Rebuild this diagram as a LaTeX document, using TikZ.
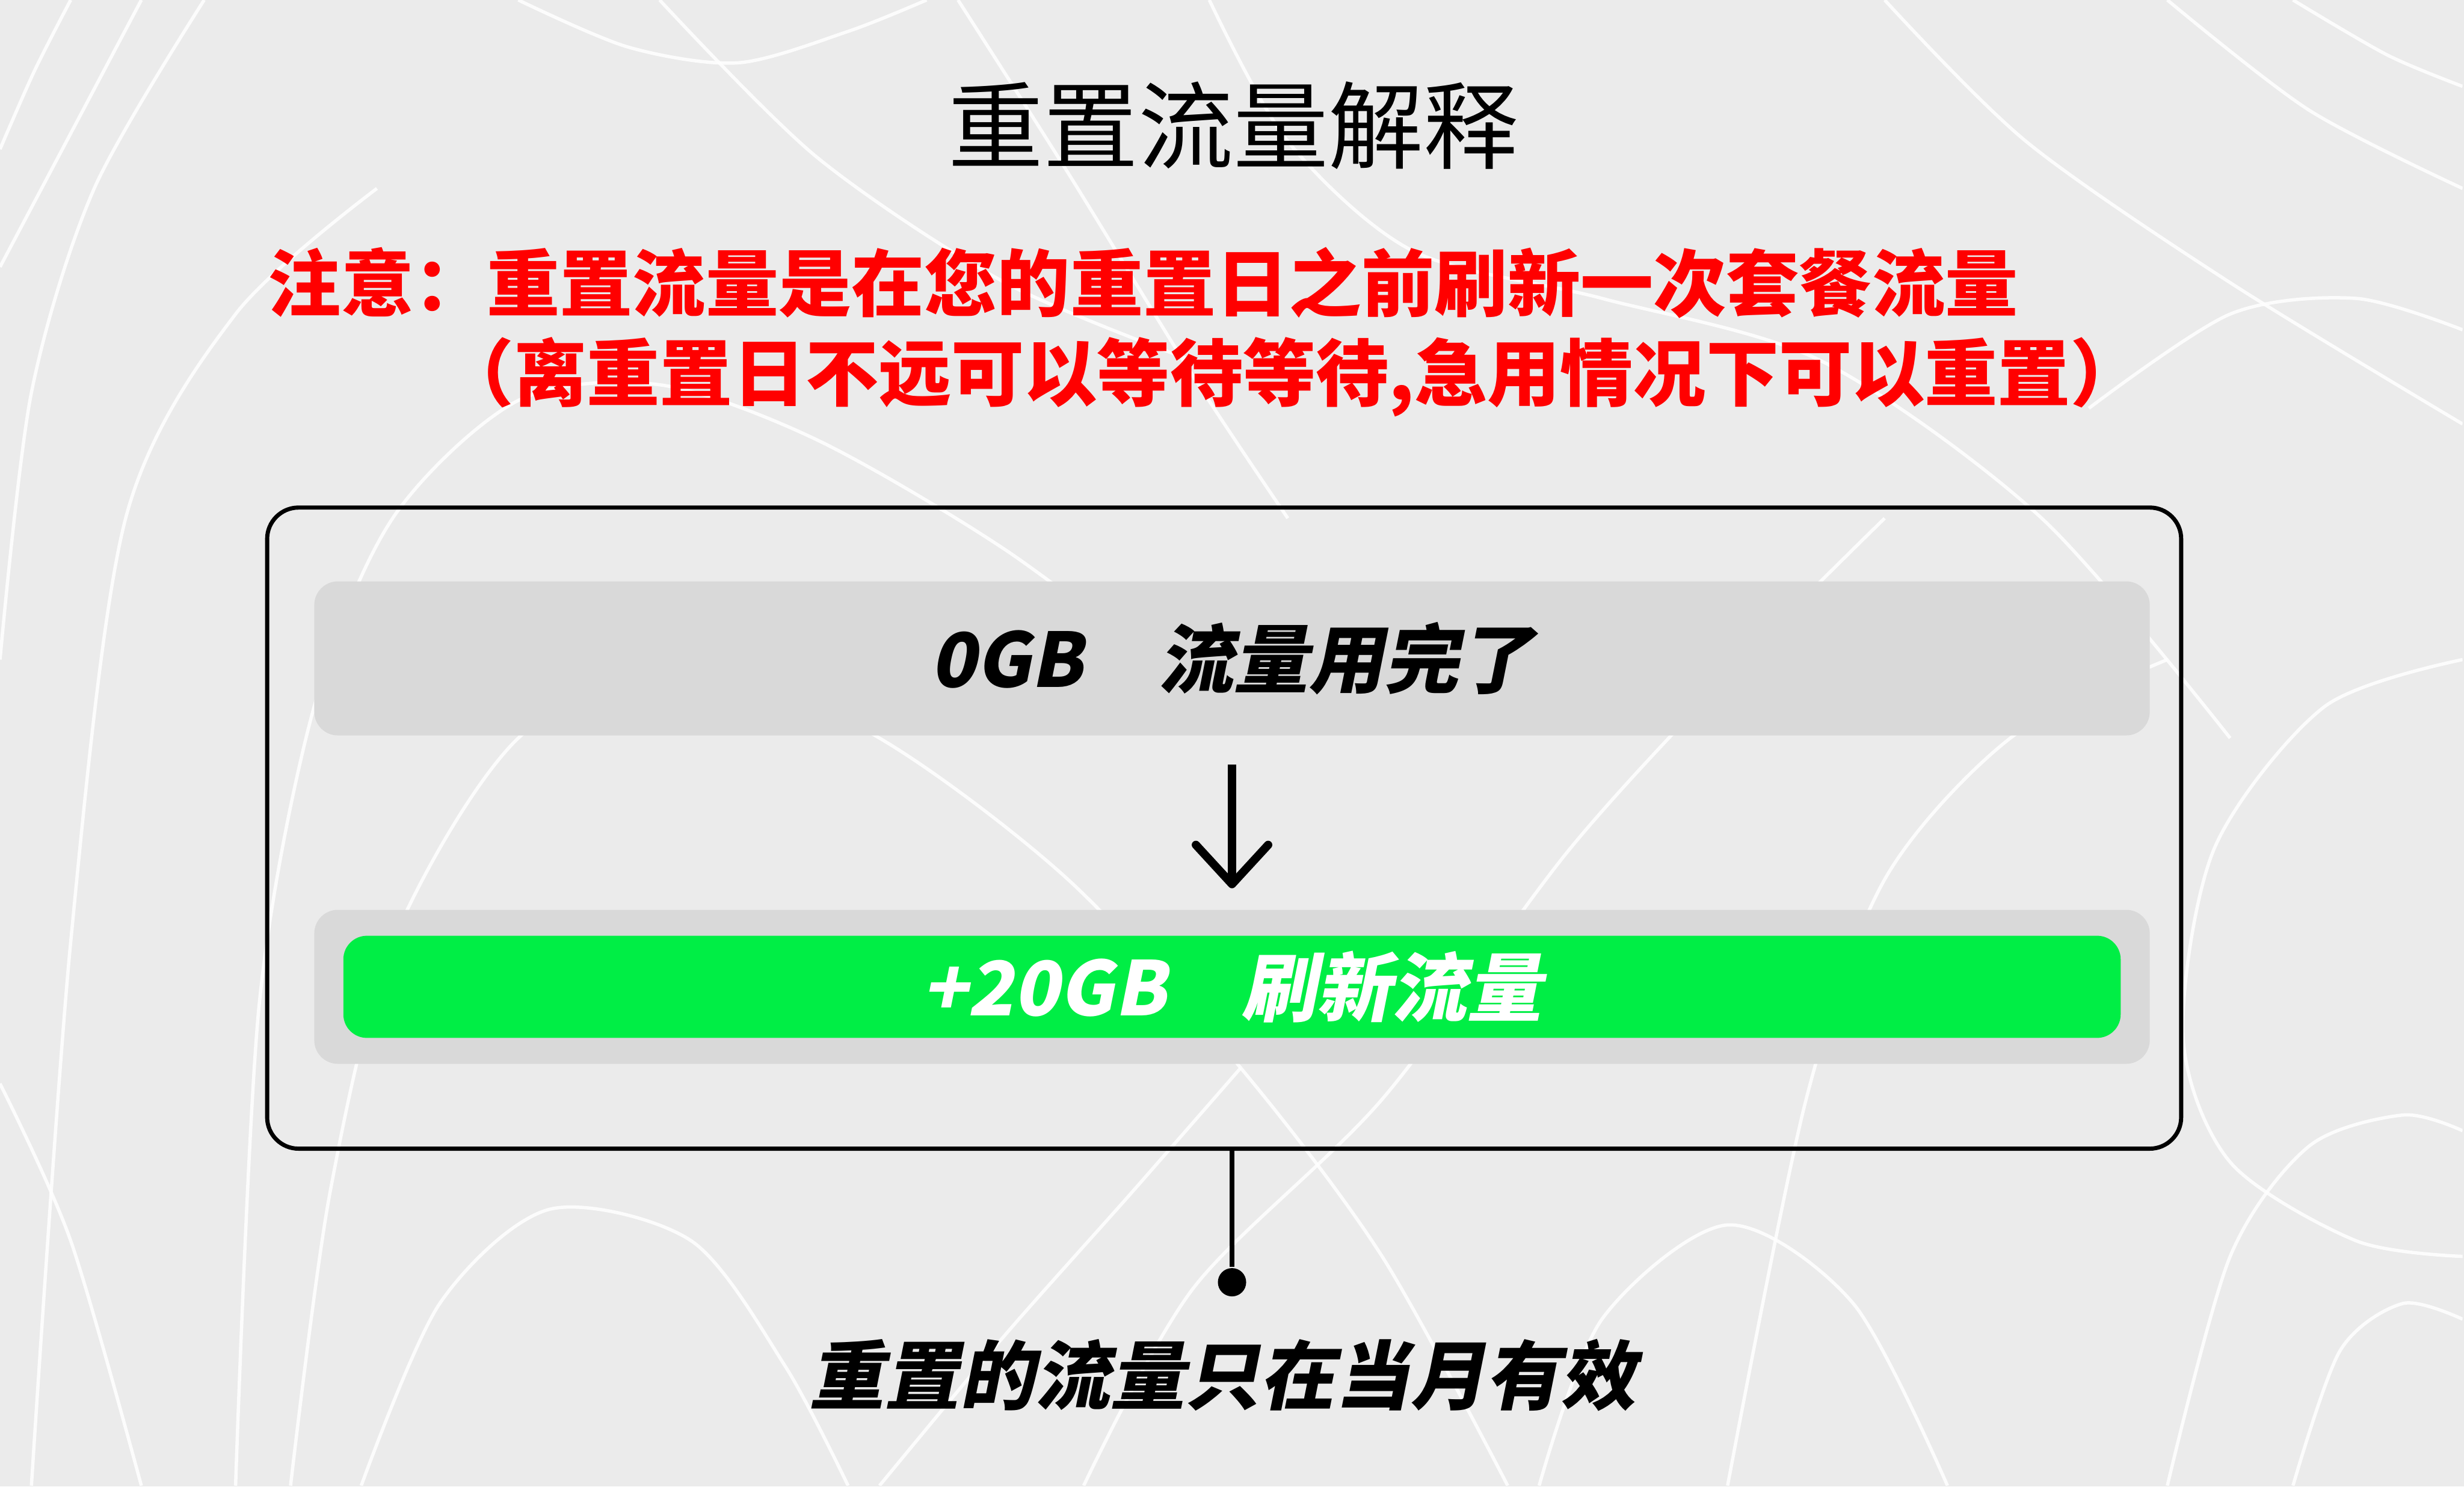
\documentclass[tikz,border=0pt]{standalone}
\usepackage{fontspec}
\usetikzlibrary{arrows.meta,positioning,calc}
\newfontfamily\cjk{Noto Sans CJK SC}
\newfontfamily\cjksl[FakeSlant=0.2]{Noto Sans CJK SC}
\definecolor{bgc}{HTML}{EBEBEB}
\definecolor{barc}{HTML}{D9D9D9}
\definecolor{redc}{HTML}{FF0000}
\definecolor{grnc}{HTML}{00EE45}
\tikzset{
  contour/.style={white, line width=0.6pt, opacity=0.85},
  title/.style={font=\cjk\fontsize{17.2}{18}\selectfont, inner sep=0pt},
  note/.style={font=\cjk\bfseries\fontsize{13.2}{14}\selectfont, text=redc, inner sep=0pt, anchor=west},
  frame/.style={rectangle, draw=black, line width=0.75pt, rounded corners=0.2cm, minimum width=12.18cm, minimum height=4.08cm, inner sep=0pt},
  bar/.style={rectangle, fill=barc, rounded corners=0.15cm, minimum width=11.68cm, minimum height=0.98cm, inner sep=0pt},
  gbar/.style={rectangle, fill=grnc, rounded corners=0.15cm, minimum width=11.31cm, minimum height=0.65cm, inner sep=0pt},
  bartxt/.style={font=\cjksl\bfseries\fontsize{13.6}{14}\selectfont, inner sep=0pt},
  flow/.style={-{Straight Barb[length=2.5mm, width=4.6mm, round]}, line width=1.5pt},
  dot/.style={circle, fill=black, inner sep=0pt, minimum size=0.18cm},
}

\begin{document}
\begin{tikzpicture}
  \fill[bgc] (0,0) rectangle (15.68,9.46);
  \useasboundingbox (0,0) rectangle (15.68,9.46);
  % background contour lines, in px of the 1568 wide picture
  \begin{scope}[x=0.01cm, y=-0.01cm, yshift=9.46cm]
    \clip (0,0) rectangle (1568,946);
    \draw[contour] plot[smooth] coordinates {(0,95) (22,45) (45,0)};
    \draw[contour] plot[smooth] coordinates {(0,170) (45,85) (90,0)};
    \draw[contour] plot[smooth] coordinates {(0,420) (20,250) (60,120) (130,0)};
    \draw[contour] plot[smooth] coordinates {(20,946) (45,600) (80,330) (150,200) (240,120)};
    \draw[contour] plot[smooth] coordinates {(150,946) (165,640) (200,450) (250,330) (330,255) (420,245) (520,280) (640,350) (760,440)};
    \draw[contour] plot[smooth] coordinates {(185,946) (210,760) (250,600) (330,470) (440,420) (560,470) (680,560) (790,680) (880,800) (960,946)};
    \draw[contour] plot[smooth] coordinates {(0,690) (45,790) (90,946)};
    \draw[contour] plot[smooth] coordinates {(230,946) (280,830) (350,770) (440,790) (500,870) (540,946)};
    \draw[contour] plot[smooth] coordinates {(330,0) (400,30) (470,40) (540,20) (590,0)};
    \draw[contour] plot[smooth] coordinates {(420,0) (520,100) (640,180) (760,230)};
    \draw[contour] plot[smooth] coordinates {(610,0) (680,110) (760,240) (820,330)};
    \draw[contour] plot[smooth] coordinates {(770,0) (820,90) (900,160) (1020,190) (1160,230) (1300,330) (1420,470)};
    \draw[contour] plot[smooth] coordinates {(690,946) (760,820) (880,700) (1000,540) (1110,420) (1200,330)};
    \draw[contour] plot[smooth] coordinates {(560,946) (640,850) (720,760) (790,680)};
    \draw[contour] plot[smooth] coordinates {(980,946) (1020,840) (1100,780) (1180,830) (1240,946)};
    \draw[contour] plot[smooth] coordinates {(1200,0) (1290,90) (1420,180) (1568,270)};
    \draw[contour] plot[smooth] coordinates {(1380,0) (1470,70) (1568,120)};
    \draw[contour] plot[smooth] coordinates {(1460,0) (1520,35) (1568,55)};
    \draw[contour] plot[smooth] coordinates {(1330,260) (1420,200) (1500,190) (1568,210)};
    \draw[contour] plot[smooth] coordinates {(1568,420) (1480,450) (1410,540) (1390,660) (1420,740) (1500,790) (1568,800)};
    \draw[contour] plot[smooth] coordinates {(1380,946) (1420,800) (1470,730) (1530,710) (1568,720)};
    \draw[contour] plot[smooth] coordinates {(1460,946) (1490,860) (1530,830) (1568,840)};
    \draw[contour] plot[smooth] coordinates {(1100,946) (1150,700) (1200,560) (1280,470) (1380,420)};
  \end{scope}

  % texts on top
  \node[title] (head) at (7.85,8.66) {重置流量解释};
  \node[note] (warn) at (1.70,7.66) {注意：重置流量是在您的重置日之前刷新一次套餐流量};
  \node[note] (hint) at (2.80,7.06) {（离重置日不远可以等待等待,急用情况下可以重置）};

  % reset flow
  \node[frame] (box) at (7.79,4.19) {};
  \node[bar] (used) at (7.84,5.27) {};
  \node[bartxt, text=black] at (used.center) {0GB\quad 流量用完了};
  \node[bar] (reset) at (7.84,3.18) {};
  \node[gbar] (fresh) at (reset.center) {};
  \node[bartxt, text=white] at (fresh.center) {+20GB\quad 刷新流量};
  \draw[flow, shorten <=0.18cm, shorten >=0.13cm] (used.south) -- (reset.north);

  \node[dot] (end) at (7.84,1.30) {};
  \draw[line width=0.9pt] (end |- box.south) -- (end);
  \node[bartxt] (valid) at (7.78,0.71) {重置的流量只在当月有效};
\end{tikzpicture}
\end{document}
